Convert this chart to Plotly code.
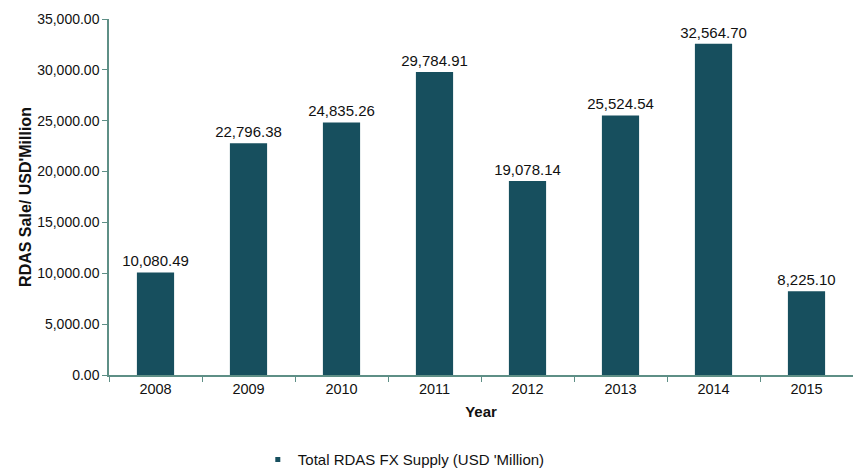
import plotly.graph_objects as go

years = ["2008", "2009", "2010", "2011", "2012", "2013", "2014", "2015"]
values = [10080.49, 22796.38, 24835.26, 29784.91, 19078.14, 25524.54, 32564.70, 8225.10]
tick_vals = [0, 5000, 10000, 15000, 20000, 25000, 30000, 35000]
tick_text = ["0.00", "5,000.00", "10,000.00", "15,000.00", "20,000.00", "25,000.00", "30,000.00", "35,000.00"]
series_name = "Total RDAS FX Supply (USD 'Million)"
labels = ["{:,.2f}".format(v) for v in values]

bar_color = "#174f5e"
axis_color = "#5e8f86"
font_family = "Liberation Sans, Arial, sans-serif"

fig = go.Figure()
fig.add_trace(go.Bar(
    x=years, y=values, name=series_name, showlegend=False,
    marker=dict(color=bar_color, line=dict(width=0)),
    width=0.4,
    text=labels, textposition="outside", cliponaxis=False, constraintext="none",
    textfont=dict(size=15, color="#111111", family=font_family),
))
# legend entry with a small marker, as in the reference
fig.add_trace(go.Scatter(
    x=[None], y=[None], mode="markers", name=series_name,
    marker=dict(symbol="square", size=5, color=bar_color),
))

fig.update_layout(
    width=853, height=470,
    margin=dict(l=109, r=0, t=19, b=95, autoexpand=False),
    plot_bgcolor="white", paper_bgcolor="white",
    font=dict(family=font_family, color="#111111", size=14),
    showlegend=True,
    legend=dict(orientation="h", x=0.2, xanchor="left", y=-0.238, yanchor="middle",
                font=dict(size=15), itemsizing="trace", itemwidth=30),
    xaxis=dict(
        title=dict(text="<b>Year</b>", font=dict(size=15), standoff=10),
        showline=True, linecolor=axis_color, linewidth=1.5,
        ticks="outside", tickson="boundaries", tickcolor=axis_color, ticklen=5,
        tickfont=dict(size=14.5), showgrid=False, automargin=False,
    ),
    yaxis=dict(
        title=dict(text="<b>RDAS Sale/ USD'Million</b>", font=dict(size=16), standoff=2),
        range=[0, 35000], tickvals=tick_vals, ticktext=tick_text,
        showline=True, linecolor=axis_color, linewidth=1.5,
        ticks="outside", tickcolor=axis_color, ticklen=5,
        tickfont=dict(size=14), showgrid=False, zeroline=False, automargin=False,
    ),
    bargap=0.6,
)

fig.write_html("out.html")
